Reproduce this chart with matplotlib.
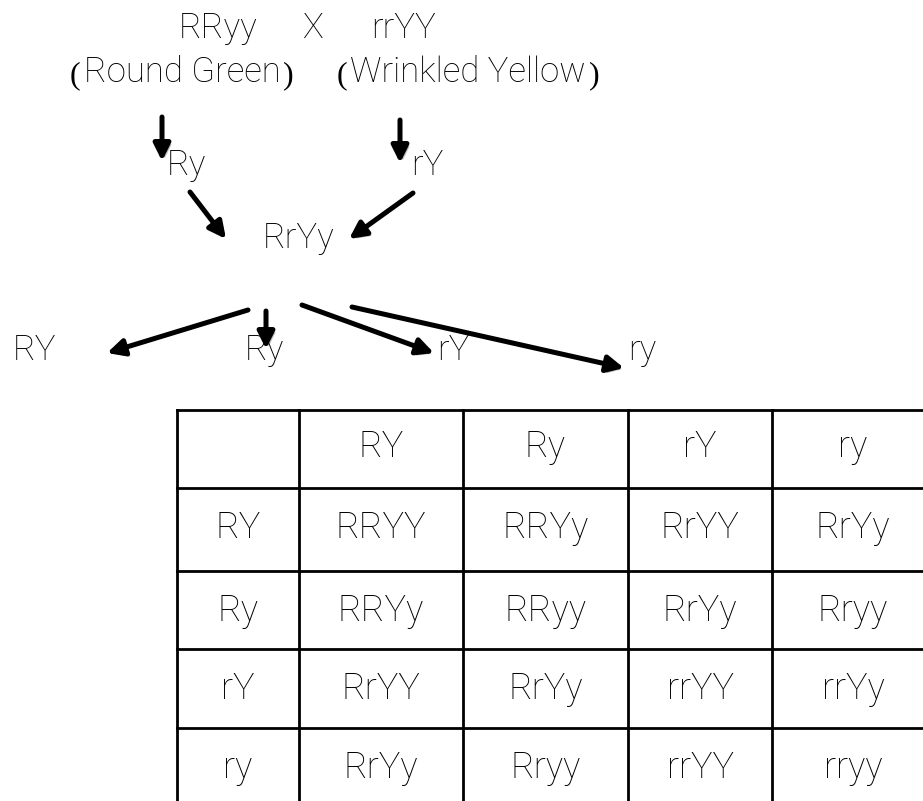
import matplotlib
matplotlib.use('Agg')
import matplotlib.pyplot as plt
import matplotlib.patheffects as pe

# parents and gametes
parents = ['RRyy', 'X', 'rrYY']
phenotypes = ['Round Green', 'Wrinkled Yellow']
parent_gametes = ['Ry', 'rY']
f1 = 'RrYy'
f1_gametes = ['RY', 'Ry', 'rY', 'ry']

# punnett square
col_labels = ['RY', 'Ry', 'rY', 'ry']
row_labels = ['RY', 'Ry', 'rY', 'ry']
cells = [
    ['RRYY', 'RRYy', 'RrYY', 'RrYy'],
    ['RRYy', 'RRyy', 'RrYy', 'Rryy'],
    ['RrYY', 'RrYy', 'rrYY', 'rrYy'],
    ['RrYy', 'Rryy', 'rrYY', 'rryy'],
]

# layout (pixel coords, y down)
W, H = 923, 801
parent_x = [218, 312, 404]
pheno_x = [182, 468]
gamete_x = [167, 411]
f1_gamete_x = [13, 245, 437, 628]
arrows = [
    ((162, 117), (162, 161)),
    ((400, 120), (400, 163)),
    ((190, 192), (226, 239)),
    ((413, 193), (349, 239)),
    ((248, 310), (107, 353)),
    ((266, 311), (266, 349)),
    ((302, 305), (434, 353)),
    ((352, 307), (624, 368)),
]
col_edges = [177, 299, 463, 628, 772, 934]
row_edges = [410, 488, 571, 649, 728, 808]

fig = plt.figure(figsize=(W / 100, H / 100), dpi=100)
ax = fig.add_axes([0, 0, 1, 1])
ax.set_xlim(0, W)
ax.set_ylim(H, 0)
ax.axis('off')

top_font = dict(family=['Roboto', 'DejaVu Sans'], weight='light', fontsize=25, color='black')
tab_font = dict(family=['Roboto', 'DejaVu Sans'], weight='light', fontsize=26, color='black')
paren_font = dict(family=['Liberation Serif', 'DejaVu Serif'], weight='normal', fontsize=23, color='black')

for x, s in zip(parent_x, parents):
    ax.text(x, 38, s, ha='center', va='baseline', **top_font)

fig.canvas.draw()
r = fig.canvas.get_renderer()
inv = ax.transData.inverted()
for x, s in zip(pheno_x, phenotypes):
    t = ax.text(x, 82, s, ha='center', va='baseline', **top_font)
    bb = t.get_window_extent(r)
    x0 = inv.transform((bb.x0, bb.y0))[0]
    x1 = inv.transform((bb.x1, bb.y0))[0]
    ax.text(x0 - 3, 83, '(', ha='right', va='baseline', **paren_font)
    ax.text(x1 + 3, 83, ')', ha='left', va='baseline', **paren_font)

for x, s in zip(gamete_x, parent_gametes):
    ax.text(x, 175, s, ha='left', va='baseline', **top_font)
ax.text(263, 248, f1, ha='left', va='baseline', **top_font)
for x, s in zip(f1_gamete_x, f1_gametes):
    ax.text(x, 360, s, ha='left', va='baseline', **top_font)

shadow = [pe.SimplePatchShadow(offset=(2, -2), alpha=0.25), pe.Normal()]
for (x0, y0), (x1, y1) in arrows:
    ax.annotate('', xy=(x1, y1), xytext=(x0, y0),
                arrowprops=dict(arrowstyle='-|>,head_length=1.0,head_width=0.5',
                                lw=3.6, color='black', shrinkA=0, shrinkB=0,
                                path_effects=shadow))

# grid
for y in row_edges:
    ax.plot([col_edges[0], col_edges[-1]], [y, y], color='black', lw=2, solid_capstyle='projecting')
for x in col_edges:
    ax.plot([x, x], [row_edges[0], row_edges[-1]], color='black', lw=2, solid_capstyle='projecting')

centers_x = [(a + b) / 2 for a, b in zip(col_edges[:-1], col_edges[1:])]
for j, s in enumerate(col_labels):
    ax.text(centers_x[j + 1], row_edges[0] + 47, s, ha='center', va='baseline', **tab_font)
for i, s in enumerate(row_labels):
    y = row_edges[i + 1] + 50
    ax.text(centers_x[0], y, s, ha='center', va='baseline', **tab_font)
    for j, g in enumerate(cells[i]):
        ax.text(centers_x[j + 1], y, g, ha='center', va='baseline', **tab_font)

fig.savefig('out.png', dpi=100)
